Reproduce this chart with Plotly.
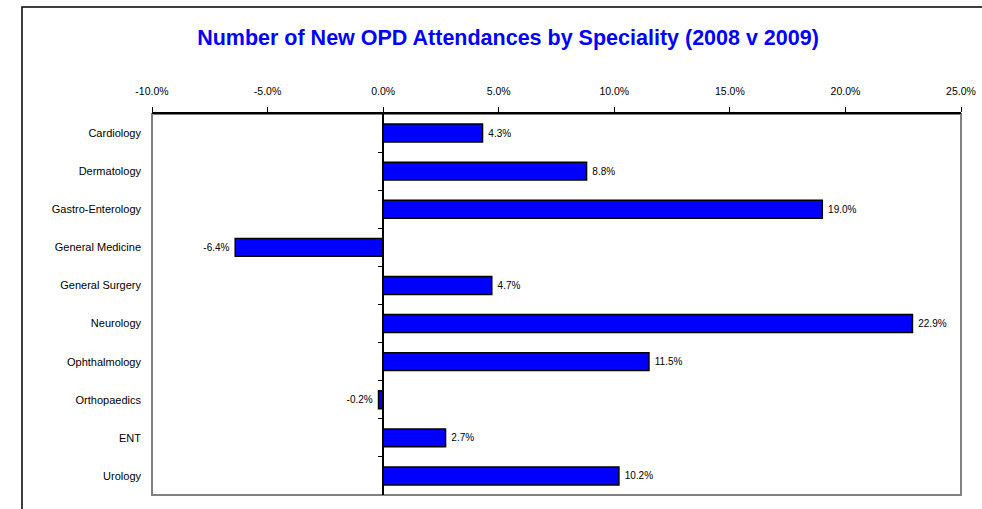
import plotly.graph_objects as go

categories = ["Cardiology", "Dermatology", "Gastro-Enterology", "General Medicine",
              "General Surgery", "Neurology", "Ophthalmology", "Orthopaedics", "ENT", "Urology"]
change_pct = [4.3, 8.8, 19.0, -6.4, 4.7, 22.9, 11.5, -0.2, 2.7, 10.2]
x_ticks = [-10, -5, 0, 5, 10, 15, 20, 25]
x_tick_labels = ["-10.0%", "-5.0%", "0.0%", "5.0%", "10.0%", "15.0%", "20.0%", "25.0%"]
title_text = "Number of New OPD Attendances by Speciality (2008 v 2009)"

W, H = 982, 509
ml, mr, mt, mb = 152, 21, 114, 14
pw, ph = W - ml - mr, H - mt - mb
xmin, xmax = -10, 25

labels = [(f" {v:.1f}%" if v >= 0 else f"{v:.1f}% ") for v in change_pct]

fig = go.Figure()
fig.add_trace(go.Bar(
    y=categories, x=change_pct, orientation="h",
    marker=dict(color="#0000FF", line=dict(color="black", width=1.5)),
    text=labels, textposition="outside",
    textfont=dict(family="Liberation Sans, Arial", size=10, color="black"),
    constraintext="none", cliponaxis=False, hoverinfo="skip",
))
# invisible trace to activate the secondary (boundary tick) axis
fig.add_trace(go.Scatter(x=[0], y=[0], yaxis="y2", mode="markers",
                         marker=dict(opacity=0), showlegend=False, hoverinfo="skip"))

n = len(categories)
fig.update_layout(
    width=W, height=H, margin=dict(l=ml, r=mr, t=mt, b=mb, autoexpand=False),
    paper_bgcolor="white", plot_bgcolor="white", showlegend=False,
    bargap=0.53,
    title=dict(text=f"<b>{title_text}</b>", x=508 / W, xanchor="center",
               y=1 - 37 / H, yanchor="middle", xref="container", yref="container",
               font=dict(family="Liberation Sans, Arial", size=21.5, color="#0000FF")),
    xaxis=dict(range=[xmin, xmax], side="top", tickvals=x_ticks, ticktext=x_tick_labels,
               showgrid=False, zeroline=False, showline=True, linecolor="black", linewidth=1.5,
               ticks="outside", ticklen=5, tickcolor="black", tickwidth=1,
               ticklabelstandoff=8, automargin=False,
               tickfont=dict(family="Liberation Sans, Arial", size=10.5, color="black")),
    yaxis=dict(type="category", categoryorder="array", categoryarray=categories,
               range=[n - 0.5, -0.5], showgrid=False, zeroline=False, showline=False,
               ticks="", ticklabelstandoff=10, automargin=False,
               tickfont=dict(family="Liberation Sans, Arial", size=11, color="black")),
    yaxis2=dict(overlaying="y", anchor="free", position=(0 - xmin) / (xmax - xmin),
                range=[n - 0.5, -0.5], tickvals=[i + 0.5 for i in range(n - 1)],
                showticklabels=False, ticks="outside", ticklen=4, tickcolor="black",
                showline=True, linecolor="black", linewidth=1.5, showgrid=False,
                zeroline=False, automargin=False),
    shapes=[
        # plot area border (gray)
        dict(type="rect", xref="paper", yref="paper", x0=0, x1=1, y0=0, y1=1,
             line=dict(color="#808080", width=2), layer="below"),
        # outer chart frame
        dict(type="rect", xref="paper", yref="paper",
             x0=(22 - ml) / pw, x1=(W + 20 - ml) / pw,
             y0=-(mb + 20) / ph, y1=1 + (mt - 7) / ph,
             line=dict(color="black", width=1.5), layer="below"),
    ],
)

fig.write_html("out.html", config={"displayModeBar": False},
               post_script="document.body.style.margin='0';")
